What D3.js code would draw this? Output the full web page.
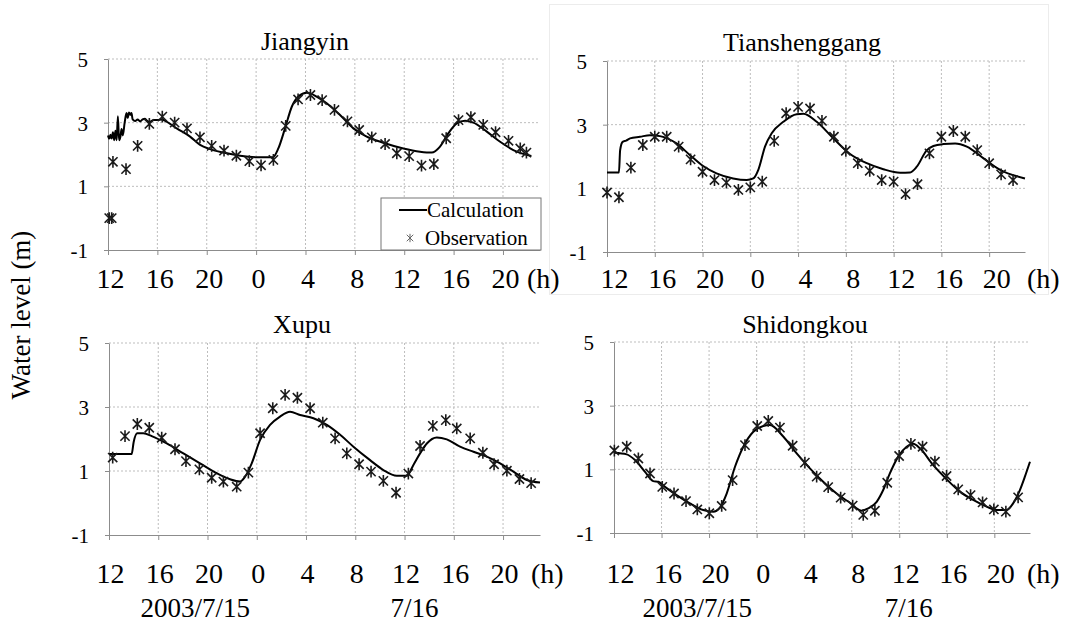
<!DOCTYPE html>
<html>
  <head>
    <meta charset="utf-8">
    <script type="text/javascript" src="https://d3js.org/d3.v7.min.js"></script>
    <style>
      body { margin: 0; background: #fff; }
    </style>
  </head>
  <body>
    <script type="text/javascript">
        // hours counted from 0:00 on 2003/7/15 (so 24 = 0:00 on 7/16)
        var xTicks = [12, 16, 20, 24, 28, 32, 36, 40, 44];
        var yTicks = [-1, 1, 3, 5];
        var dateLabels = [[19, "2003/7/15"], [36.8, "7/16"]];

        // [hour, water level (m)]
        var jiangyinCalc = [[12.0,2.6],[12.1,2.5],[12.2,2.62],[12.3,2.5],[12.4,2.7],[12.5,2.45],[12.6,2.75],[12.7,2.45],
            [12.8,3.2],[12.9,2.45],[13.0,2.55],[13.1,2.8],[13.2,2.6],[13.35,3.0],[13.5,3.3],[13.6,3.15],[13.7,3.32],
            [13.8,3.25],[13.9,3.3],[14.0,3.1],[14.2,3.05],[14.4,3.1],[14.6,3.04],[14.8,3.1],[15.0,3.12],[15.2,3.05],
            [15.4,3.03],[15.7,3.08],[16.0,3.08],[16.35,3.1],[17.0,2.97],[17.57,2.82],[18.65,2.56],[19.46,2.3],
            [20.27,2.17],[21.34,2.06],[22.7,1.96],[24.3,1.91],[25.35,1.91],[25.8,2.19],[26.34,2.82],[26.89,3.5],
            [27.42,3.82],[28.1,3.94],[28.4,3.92],[28.9,3.82],[29.72,3.61],[30.8,3.24],[31.88,2.82],[32.96,2.56],
            [34.3,2.37],[35.93,2.19],[37.28,2.09],[38.23,2.06],[38.9,2.25],[39.58,2.67],[40.26,2.98],[40.93,3.06],
            [41.6,3.0],[42.69,2.72],[43.77,2.4],[44.84,2.14],[46.3,1.95]];
        var jiangyinObs = [[12.1,0.0],[12.3,0.0],[12.4,1.77],[13.46,1.54],[14.4,2.27],[15.35,2.96],[16.4,3.19],[17.4,3.0],
            [18.4,2.82],[19.45,2.54],[20.4,2.27],[21.4,2.12],[22.4,1.96],[23.45,1.79],[24.4,1.66],[25.4,1.83],
            [26.4,2.9],[27.4,3.73],[28.4,3.87],[29.35,3.71],[30.35,3.4],[31.4,3.04],[32.35,2.77],[33.37,2.54],
            [34.45,2.33],[35.4,2.04],[36.4,1.95],[37.4,1.65],[38.4,1.7],[39.4,2.51],[40.4,3.08],[41.4,3.17],
            [42.4,2.93],[43.4,2.7],[44.45,2.43],[45.4,2.19],[45.9,2.06]];

        var tianCalc = [[12.0,1.5],[13.0,1.5],[13.1,2.2],[13.31,2.46],[13.6,2.5],[13.93,2.57],[14.76,2.62],[15.6,2.67],
            [16.43,2.64],[17.82,2.41],[18.93,2.05],[20.05,1.7],[21.17,1.47],[22.56,1.31],[23.7,1.26],[24.25,1.31],
            [24.67,1.58],[25.23,2.31],[25.79,2.73],[26.76,3.09],[27.88,3.33],[28.44,3.34],[29.56,3.09],[30.95,2.57],
            [32.35,2.08],[33.75,1.79],[35.14,1.6],[36.54,1.49],[37.38,1.5],[37.94,1.68],[38.78,2.2],[39.33,2.33],
            [40.17,2.39],[41.15,2.41],[42.13,2.31],[43.53,1.94],[44.92,1.58],[47.0,1.31]];
        var tianObs = [[12,0.87],[13,0.72],[14,1.65],[15,2.36],[16,2.62],[17,2.62],[18,2.31],[19,1.91],[20,1.52],
            [21,1.26],[22,1.18],[23,0.95],[24,1.03],[25,1.21],[26,2.49],[27,3.36],[28,3.56],[29,3.51],[30,3.12],
            [31,2.62],[32,2.18],[33,1.79],[34,1.55],[35,1.26],[36,1.21],[37,0.82],[38,1.13],[39,2.1],[40,2.62],
            [41,2.8],[42,2.62],[43,2.2],[44,1.79],[45,1.44],[46,1.26]];

        var xupuCalc = [[12.0,1.53],[13.84,1.53],[14.0,1.9],[14.3,2.18],[14.79,2.18],[15.47,2.09],[16.69,1.86],
            [18.04,1.55],[19.39,1.24],[20.75,0.93],[21.83,0.74],[22.64,0.67],[23.05,0.82],[23.59,1.24],[24.27,1.97],
            [25.08,2.44],[25.89,2.7],[26.7,2.85],[27.52,2.75],[28.6,2.65],[29.69,2.44],[30.77,2.13],[31.85,1.76],
            [33.2,1.34],[34.28,1.03],[35.37,0.85],[36.18,0.85],[36.72,1.19],[37.26,1.55],[37.81,1.86],[38.62,2.05],
            [39.43,1.99],[40.51,1.76],[41.6,1.6],[42.68,1.45],[43.76,1.24],[44.84,0.98],[45.93,0.72],[47.0,0.64]];
        var xupuObs = [[12.3,1.42],[13.3,2.09],[14.3,2.47],[15.27,2.35],[16.28,2.04],[17.36,1.68],[18.25,1.31],
            [19.34,1.05],[20.34,0.79],[21.29,0.67],[22.37,0.51],[23.32,0.95],[24.27,2.18],[25.3,2.96],[26.3,3.38],
            [27.3,3.29],[28.33,2.96],[29.36,2.51],[30.36,2.02],[31.31,1.55],[32.31,1.21],[33.28,0.98],[34.28,0.69],
            [35.31,0.32],[36.31,0.92],[37.26,1.78],[38.3,2.41],[39.35,2.59],[40.24,2.33],[41.33,2.02],[42.36,1.57],
            [43.27,1.21],[44.31,1.01],[45.33,0.75],[46.28,0.62]];

        var shiCalc = [[12.03,1.52],[13.07,1.47],[13.77,1.29],[14.61,0.92],[15.3,0.63],[15.73,0.61],[16.29,0.45],
            [17.27,0.19],[18.39,-0.07],[19.51,-0.28],[20.35,-0.33],[20.91,-0.2],[21.48,0.24],[22.18,1.08],[22.88,1.71],
            [23.72,2.18],[24.56,2.36],[25.12,2.39],[26.24,2.03],[27.37,1.5],[28.48,1.03],[29.6,0.61],[30.73,0.24],
            [31.85,-0.05],[32.83,-0.3],[33.39,-0.23],[34.1,-0.02],[34.65,0.35],[35.21,0.87],[35.91,1.4],[36.62,1.71],
            [37.17,1.8],[37.74,1.66],[38.86,1.13],[39.98,0.69],[41.1,0.3],[42.22,0.04],[43.35,-0.17],[44.19,-0.28],
            [45.03,-0.28],[45.58,-0.07],[46.15,0.35],[46.57,0.77],[47.0,1.24]];
        var shiObs = [[12.03,1.59],[13.07,1.71],[14.05,1.34],[15.03,0.87],[16.06,0.45],[17.05,0.24],[18.06,0.0],
            [19.01,-0.26],[20.02,-0.38],[21.06,-0.15],[21.98,0.66],[23.02,1.76],[24.05,2.36],[24.98,2.52],[25.96,2.31],
            [27.03,1.74],[28.06,1.21],[29.05,0.77],[30.02,0.44],[31.07,0.11],[32.08,-0.14],[32.97,-0.43],[33.95,-0.3],
            [34.99,0.58],[35.99,1.42],[36.98,1.8],[37.96,1.71],[39.0,1.24],[39.98,0.79],[40.96,0.37],[42.0,0.19],
            [43.01,-0.04],[43.96,-0.26],[44.97,-0.33],[46.0,0.12]];

        var width = 1081, height = 628;
        var FONT = "'Liberation Serif', 'Times New Roman', 'DejaVu Serif', serif";
        var svg = d3.select("body").append("svg")
                    .attr("width", width)
                    .attr("height", height)
                    .attr("font-family", FONT);

        // faint frame around the upper right panel
        svg.append("rect")
            .attr("x", 549.5).attr("y", 4.5)
            .attr("width", 499).attr("height", 290)
            .attr("fill", "none").attr("stroke", "#ececec");

        // six armed star like the spreadsheet marker
        var star = {
            draw: function(ctx, size) {
                var r = Math.sqrt(size) / 2, d = r * 0.78;
                ctx.moveTo(0, -r); ctx.lineTo(0, r);
                ctx.moveTo(-d, -d); ctx.lineTo(d, d);
                ctx.moveTo(-d, d); ctx.lineTo(d, -d);
            }
        };

        var panels = [
            {title: "Jiangyin", calc: jiangyinCalc, obs: jiangyinObs, left: 108, right: 540, top: 59, bottom: 250,
             titleX: 305, titleY: 50, labY: 38, labDx: 2, hX: 527, dates: false, legend: true},
            {title: "Tianshenggang", calc: tianCalc, obs: tianObs, left: 607, right: 1025, top: 61, bottom: 252,
             titleX: 802, titleY: 51, labY: 36, labDx: 7, hX: 1027, dates: false, legend: false},
            {title: "Xupu", calc: xupuCalc, obs: xupuObs, left: 109, right: 540, top: 343, bottom: 535,
             titleX: 302, titleY: 333, labY: 48, labDx: 1, hX: 531, dates: true, legend: false},
            {title: "Shidongkou", calc: shiCalc, obs: shiObs, left: 614, right: 1030, top: 342, bottom: 533,
             titleX: 805, titleY: 333, labY: 50, labDx: 6, hX: 1027, dates: true, legend: false}
        ];

        panels.forEach(function(p) {
            var x = d3.scaleLinear().domain([12, 47]).range([p.left, p.right]);
            var y = d3.scaleLinear().domain([-1, 5]).range([p.bottom, p.top]);
            var g = svg.append("g");

            //dotted grid
            g.append("g").selectAll("line")
                .data(xTicks.slice(1))
                .enter().append("line")
                .attr("x1", function(d) { return x(d); })
                .attr("x2", function(d) { return x(d); })
                .attr("y1", p.top).attr("y2", p.bottom)
                .attr("stroke", "#bdbdbd").attr("stroke-dasharray", "2,2");
            g.append("g").selectAll("line")
                .data(yTicks.slice(1))
                .enter().append("line")
                .attr("x1", p.left).attr("x2", p.right)
                .attr("y1", function(d) { return y(d); })
                .attr("y2", function(d) { return y(d); })
                .attr("stroke", "#bdbdbd").attr("stroke-dasharray", "2,2");

            //axes
            var xAxis = g.append("g")
                .attr("transform", "translate(0," + p.bottom + ")")
                .call(d3.axisBottom(x).tickValues(xTicks).tickSize(5).tickSizeOuter(0)
                        .tickFormat(function(d) { return d % 24; }));
            xAxis.selectAll("text")
                .attr("y", p.labY).attr("dy", 0).attr("dx", p.labDx)
                .style("font-size", "28px");
            var yAxis = g.append("g")
                .attr("transform", "translate(" + p.left + ",0)")
                .call(d3.axisLeft(y).tickValues(yTicks).tickSize(4).tickSizeOuter(0).tickPadding(16)
                        .tickFormat(function(d) { return String(d); }));
            yAxis.selectAll("text").attr("dy", "0.36em").style("font-size", "21px");
            xAxis.attr("font-family", FONT);
            yAxis.attr("font-family", FONT);
            g.selectAll(".domain, .tick line").attr("stroke", "#8c8c8c");
            g.selectAll(".tick text").attr("fill", "#000");

            g.append("text")
                .attr("x", p.hX).attr("y", p.bottom + p.labY)
                .style("font-size", "28px")
                .text("(h)");

            g.append("text")
                .attr("x", p.titleX).attr("y", p.titleY)
                .attr("text-anchor", "middle")
                .style("font-size", "26px")
                .text(p.title);

            if (p.dates) {
                g.append("g").selectAll("text")
                    .data(dateLabels)
                    .enter().append("text")
                    .attr("x", function(d) { return x(d[0]); })
                    .attr("y", p.bottom + p.labY + 34)
                    .attr("text-anchor", "middle")
                    .style("font-size", "27px")
                    .text(function(d) { return d[1]; });
            }

            //calculated water level
            var line = d3.line()
                .x(function(d) { return x(d[0]); })
                .y(function(d) { return y(d[1]); })
                .curve(d3.curveMonotoneX);
            g.append("path")
                .datum(p.calc)
                .attr("d", line)
                .attr("fill", "none")
                .attr("stroke", "#000")
                .attr("stroke-width", 2);

            //observed points
            var sym = d3.symbol().type(star).size(140);
            g.append("g").selectAll("path")
                .data(p.obs)
                .enter().append("path")
                .attr("transform", function(d) { return "translate(" + x(d[0]) + "," + y(d[1]) + ")"; })
                .attr("d", sym)
                .attr("fill", "none")
                .attr("stroke", "#1a1a1a")
                .attr("stroke-width", 1.6);

            if (p.legend) {
                var lg = g.append("g")
                    .attr("transform", "translate(" + (p.right - 159) + "," + (p.bottom - 52) + ")");
                lg.append("rect")
                    .attr("width", 160).attr("height", 52)
                    .attr("fill", "#fff").attr("stroke", "#777");
                lg.append("line")
                    .attr("x1", 18).attr("x2", 46).attr("y1", 12).attr("y2", 12)
                    .attr("stroke", "#000").attr("stroke-width", 2);
                lg.append("text").attr("x", 46).attr("y", 19)
                    .style("font-size", "21px").text("Calculation");
                lg.append("path")
                    .attr("transform", "translate(29,40)")
                    .attr("d", d3.symbol().type(star).size(70))
                    .attr("fill", "none").attr("stroke", "#666").attr("stroke-width", 1);
                lg.append("text").attr("x", 44).attr("y", 47)
                    .style("font-size", "21px").text("Observation");
            }
        });

        svg.append("text")
            .attr("transform", "translate(30,315) rotate(-90)")
            .attr("text-anchor", "middle")
            .style("font-size", "27px")
            .text("Water level (m)");
    </script>
  </body>
</html>
